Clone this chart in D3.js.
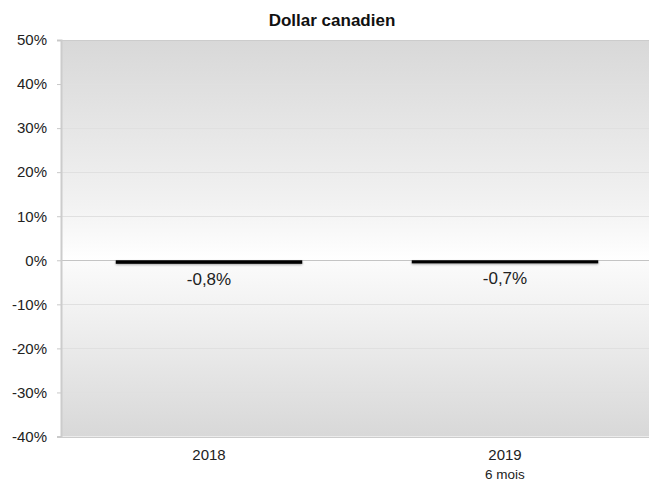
<!DOCTYPE html>
<html>
<head>
<meta charset="utf-8">
<script src="https://cdn.jsdelivr.net/npm/d3@7"></script>
<style>
  html, body { margin: 0; padding: 0; background: #fff; }
  svg { display: block; font-family: "Liberation Sans", Arial, Helvetica, sans-serif; }
</style>
</head>
<body>
<svg id="chart" width="649" height="481"></svg>
<script>
// Annual change of the Canadian dollar
const title = "Dollar canadien";
const categories = ["2018", "2019"];
const subLabels = ["", "6 mois"];
const values = [-0.8, -0.7];
const valueLabels = ["-0,8%", "-0,7%"];
const yTicks = [50, 40, 30, 20, 10, 0, -10, -20, -30, -40];
const yTickLabels = ["50%", "40%", "30%", "20%", "10%", "0%", "-10%", "-20%", "-30%", "-40%"];

const svg = d3.select("#chart");
const margin = { left: 61, top: 40, right: -4, bottom: 44.5 };
const W = 649, H = 481;
const x0 = margin.left, x1 = W - margin.right;
const y0 = margin.top, y1 = H - margin.bottom;

const x = d3.scaleBand().domain(categories).range([x0, x1]).paddingInner(0.37).paddingOuter(0.185);
const y = d3.scaleLinear().domain([-40, 50]).range([y1, y0]);

// Background: grey at the extremes fading to white at zero
const defs = svg.append("defs");
const grad = defs.append("linearGradient")
  .attr("id", "bg").attr("gradientUnits", "userSpaceOnUse")
  .attr("x1", 0).attr("x2", 0).attr("y1", y(50)).attr("y2", y(-40));
const zeroOff = (y(0) - y(50)) / (y(-40) - y(50));
[[0, "#d8d8d8"], [zeroOff * 0.75, "#f2f2f2"], [zeroOff - 0.001, "#ffffff"],
 [zeroOff + 0.001, "#fbfbfb"], [zeroOff + (1 - zeroOff) * 0.3, "#f1f1f1"], [1, "#d8d8d8"]]
  .forEach(([o, c]) => grad.append("stop").attr("offset", o).attr("stop-color", c));

svg.append("rect")
  .attr("x", x0).attr("y", y(50)).attr("width", x1 - x0).attr("height", y(-40) - y(50))
  .attr("fill", "url(#bg)");

// Horizontal grid lines
svg.append("g").selectAll("line").data(yTicks).join("line")
  .attr("x1", x0).attr("x2", x1)
  .attr("y1", d => Math.round(y(d)) + 0.5).attr("y2", d => Math.round(y(d)) + 0.5)
  .attr("stroke", d => d === 0 ? "#c4c4c4" : (d === 50 || d === -40 ? "#cccccc" : "#e0e0e0"))
  .attr("stroke-width", 1);

// Y axis
const yAxis = d3.axisLeft(y).tickValues(yTicks)
  .tickFormat((d, i) => yTickLabels[i]).tickSize(4).tickPadding(10);
const gy = svg.append("g").attr("transform", `translate(${x0},0)`).call(yAxis);
gy.select(".domain").attr("stroke", "#cccccc").attr("stroke-width", 2);
gy.selectAll(".tick line").attr("stroke", "#c8c8c8");
gy.selectAll(".tick text").attr("fill", "#222").attr("font-size", 15)
  .attr("font-family", "'Liberation Sans', Arial, sans-serif");

// Bars with a soft shadow
const shadow = defs.append("filter").attr("id", "sh").attr("x", "-5%").attr("y", "-100%").attr("width", "110%").attr("height", "300%");
shadow.append("feDropShadow").attr("dx", 0).attr("dy", 1).attr("stdDeviation", 0.8)
  .attr("flood-color", "#000").attr("flood-opacity", 0.35);

svg.append("g").selectAll("rect").data(values).join("rect")
  .attr("x", (d, i) => x(categories[i]))
  .attr("width", x.bandwidth())
  .attr("y", d => y(Math.max(0, d)))
  .attr("height", d => Math.abs(y(d) - y(0)))
  .attr("fill", "#000")
  .attr("filter", "url(#sh)");

// Value labels
svg.append("g").selectAll("text").data(values).join("text")
  .attr("x", (d, i) => x(categories[i]) + x.bandwidth() / 2)
  .attr("y", d => y(d) + 21)
  .attr("text-anchor", "middle")
  .attr("font-size", 17)
  .attr("fill", "#222")
  .text((d, i) => valueLabels[i]);

// Category labels
const gx = svg.append("g");
gx.selectAll("text.cat").data(categories).join("text").attr("class", "cat")
  .attr("x", d => x(d) + x.bandwidth() / 2)
  .attr("y", y(-40) + 23.5)
  .attr("text-anchor", "middle").attr("font-size", 15).attr("fill", "#222")
  .text(d => d);
gx.selectAll("text.sub").data(subLabels).join("text").attr("class", "sub")
  .attr("x", (d, i) => x(categories[i]) + x.bandwidth() / 2)
  .attr("y", y(-40) + 42)
  .attr("text-anchor", "middle").attr("font-size", 13.5).attr("fill", "#222")
  .text(d => d);

// Title
svg.append("text")
  .attr("x", 332).attr("y", 25.5)
  .attr("text-anchor", "middle")
  .attr("font-size", 17).attr("font-weight", "bold").attr("fill", "#111")
  .text(title);
</script>
</body>
</html>
